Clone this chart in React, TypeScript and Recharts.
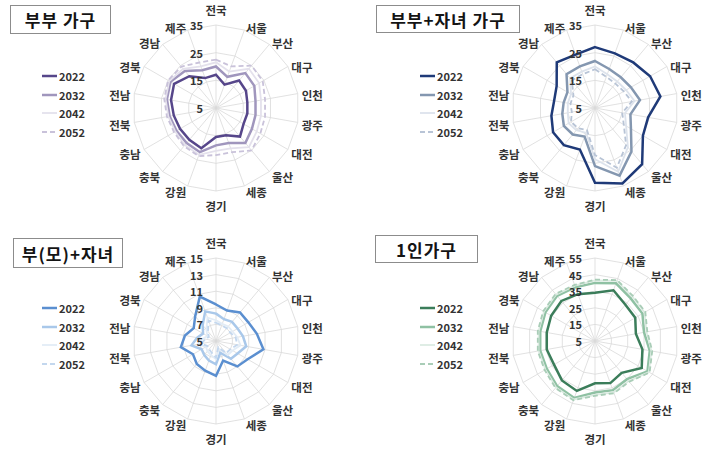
import React from "react";
import {
  RadarChart,
  PolarGrid,
  PolarAngleAxis,
  PolarRadiusAxis,
  Radar,
  Legend,
} from "recharts";

const REGIONS = [
  "전국", "서울", "부산", "대구", "인천", "광주", "대전", "울산", "세종",
  "경기", "강원", "충북", "충남", "전북", "전남", "경북", "경남", "제주",
];
const YEARS = ["2022", "2032", "2042", "2052"];

// 부부 가구 (%)
const COUPLE_2022 = [17, 14, 18, 17.5, 16.5, 16.5, 16.5, 18.5, 15.5, 15.5, 20.5, 20, 20, 20.5, 21.5, 22.5, 20, 16.5];
const COUPLE_2032 = [20, 17, 21.5, 21, 19.5, 19.5, 20, 21.5, 18.5, 18.5, 22, 21.5, 21.5, 22, 23, 24, 22.5, 19.5];
const COUPLE_2042 = [21.5, 19, 23.5, 23, 21.5, 21.5, 22, 23.5, 20.5, 20.5, 23, 22.5, 22, 22.5, 23.5, 24.5, 23.5, 21];
const COUPLE_2052 = [22.5, 21, 25, 24.5, 23, 23, 23.5, 25, 22, 22, 23.5, 23, 22.5, 23, 24, 25, 24.5, 22.5];

// 부부+자녀 가구 (%)
const FAMILY_2022 = [27, 26, 26.5, 28, 29, 24.5, 25, 31.5, 34, 32, 21, 22.5, 22.5, 21, 20, 21, 26.5, 25.5];
const FAMILY_2032 = [22, 20, 19.5, 20, 21.5, 18, 20, 25.5, 31, 26, 16, 17.5, 18, 17, 16.5, 16.5, 21, 21];
const FAMILY_2042 = [20, 18, 17.5, 18, 19.5, 16, 18, 23.5, 29.5, 23.5, 14.5, 15.5, 16, 15, 15, 15, 19, 19];
const FAMILY_2052 = [19, 17, 16.5, 17, 18.5, 15, 17, 22.5, 28, 22, 13.5, 14.5, 15, 13.5, 14, 14, 18, 18];

// 부(모)+자녀 (%)
const SINGLE_PARENT_2022 = [9.4, 8.9, 9.5, 9.5, 10, 10.8, 9.4, 9, 7.5, 9.2, 8.8, 8.6, 8.2, 9.3, 8.8, 8.1, 8.9, 10.7];
const SINGLE_PARENT_2032 = [8.3, 7.8, 8, 8, 8.3, 8.7, 8, 7.8, 6.5, 7.8, 7.5, 7.2, 7, 8, 7.3, 6.8, 7.5, 8.8];
const SINGLE_PARENT_2042 = [7.5, 7.2, 7.3, 7.3, 7.6, 8, 7.3, 7.2, 6, 7.2, 6.8, 6.6, 6.4, 7.2, 6.6, 6.2, 6.8, 8];
const SINGLE_PARENT_2052 = [7.2, 7, 7, 7, 7.4, 7.6, 7, 6.9, 5.8, 7, 6.5, 6.3, 6.2, 6.8, 6.3, 6, 6.5, 7.6];

// 1인가구 (%)
const ONE_PERSON_2022 = [34, 37.5, 33.5, 33, 30, 34, 37.5, 30, 32, 30.5, 37, 36, 33.5, 34.5, 34.5, 35.5, 36.5, 35];
const ONE_PERSON_2032 = [40, 42, 38.5, 38, 35, 38.5, 41.5, 35, 36.5, 36, 41.5, 40.5, 38.5, 38.5, 38.5, 39.5, 40.5, 39.5];
const ONE_PERSON_2042 = [41.5, 43.5, 40, 39.5, 36.5, 39.5, 42.5, 36.5, 38, 37.5, 42.5, 41.5, 39.5, 39.5, 39.5, 40.5, 41.5, 40.5];
const ONE_PERSON_2052 = [42, 44, 40.5, 40, 37, 40, 43, 37, 38.5, 38, 43, 42, 40, 40, 40, 41, 42, 41];

const FONT = "'Noto Sans CJK KR', 'Noto Sans', sans-serif";
const WIDTHS = [2.5, 2.5, 1.8, 1.8];
const DASHES = [undefined, undefined, undefined, "5 3"];

interface PanelProps {
  title: string;
  left: number;
  top: number;
  box: { x: number; y: number; w: number; h: number };
  cx: number;
  cy: number;
  domain: [number, number];
  ticks: number[];
  colors: string[];
  series: number[][];
  legendX: number;
  legendY: number;
}

function buildRows(series: number[][]) {
  return REGIONS.map((region, i) => {
    const row: Record<string, string | number> = { region };
    YEARS.forEach((year, k) => {
      row[year] = series[k][i];
    });
    return row;
  });
}

function AngleTick(props: any) {
  const { x, y, textAnchor, payload } = props;
  const angle = (Number(payload?.coordinate ?? 0) * Math.PI) / 180;
  const dy = textAnchor === "middle" ? -11 * Math.sin(angle) : 2;
  return (
    <text
      x={x}
      y={y + dy}
      textAnchor={textAnchor}
      dominantBaseline="central"
      fontFamily={FONT}
      fontSize={11.5}
      fontWeight={700}
      fill="#333"
    >
      {payload.value}
    </text>
  );
}

function RadiusTick(props: any) {
  const { x, y, payload } = props;
  return (
    <text
      x={x - 13}
      y={y}
      textAnchor="end"
      dominantBaseline="central"
      fontFamily={FONT}
      fontSize={11}
      fontWeight={700}
      fill="#333"
    >
      {payload.value}
    </text>
  );
}

function YearLegend(props: any) {
  const items = props.payload ?? [];
  return (
    <div style={{ fontFamily: FONT }}>
      {items.map((entry: any) => {
        const k = YEARS.indexOf(String(entry.value));
        return (
          <div
            key={String(entry.value)}
            style={{ display: "flex", alignItems: "center", height: 18.5 }}
          >
            <svg width={16} height={6}>
              <line
                x1={0}
                y1={3}
                x2={15}
                y2={3}
                stroke={entry.color}
                strokeWidth={WIDTHS[k]}
                strokeDasharray={DASHES[k]}
              />
            </svg>
            <span
              style={{
                marginLeft: 1,
                fontSize: 11,
                fontWeight: 700,
                color: "#333",
                lineHeight: "12px",
              }}
            >
              {entry.value}
            </span>
          </div>
        );
      })}
    </div>
  );
}

function RadarPanel(p: PanelProps) {
  const rows = buildRows(p.series);
  return (
    <div
      style={{
        position: "absolute",
        left: p.left,
        top: p.top,
        width: 355,
        height: 225,
      }}
    >
      <RadarChart
        width={355}
        height={225}
        data={rows}
        cx={p.cx}
        cy={p.cy}
        outerRadius={83}
        margin={{ top: 0, right: 0, bottom: 0, left: 0 }}
      >
        <PolarGrid stroke="#d9d9d9" strokeWidth={0.8} />
        <PolarAngleAxis
          dataKey="region"
          tick={AngleTick}
          tickSize={4}
          tickLine={false}
          axisLine={false}
        />
        <PolarRadiusAxis
          angle={90}
          domain={p.domain}
          ticks={p.ticks}
          tickCount={p.ticks.length}
          allowDataOverflow
          axisLine={false}
          tickLine={false}
          tick={RadiusTick}
        />
        {YEARS.map((year, k) => (
          <Radar
            key={year}
            name={year}
            dataKey={year}
            stroke={p.colors[k]}
            strokeWidth={WIDTHS[k]}
            strokeDasharray={DASHES[k]}
            fill="none"
            fillOpacity={0}
            dot={false}
            isAnimationActive={false}
          />
        ))}
        <Legend
          layout="horizontal"
          align="center"
          verticalAlign="middle"
          content={YearLegend}
          wrapperStyle={{
            position: "absolute",
            left: p.legendX,
            top: p.legendY,
            width: 60,
            height: 76,
          }}
        />
      </RadarChart>
      <div
        style={{
          position: "absolute",
          left: p.box.x,
          top: p.box.y,
          width: p.box.w,
          height: p.box.h,
          boxSizing: "border-box",
          border: "1px solid #8c8c8c",
          background: "#fff",
          display: "flex",
          alignItems: "center",
          justifyContent: "center",
          fontFamily: FONT,
          fontSize: 17,
          fontWeight: 700,
          letterSpacing: 1,
          color: "#141414",
          whiteSpace: "pre",
        }}
      >
        {p.title}
      </div>
    </div>
  );
}

export default function App() {
  return (
    <div
      style={{
        position: "absolute",
        left: 0,
        top: 0,
        width: 710,
        height: 450,
        background: "#fff",
        overflow: "hidden",
      }}
    >
      <RadarPanel
        title="부부 가구"
        left={0}
        top={0}
        box={{ x: 10, y: 5, w: 101, h: 29 }}
        cx={216}
        cy={108}
        domain={[5, 35]}
        ticks={[5, 15, 25, 35]}
        colors={["#56468a", "#a096bd", "#e4e1ec", "#c9c2da"]}
        series={[COUPLE_2022, COUPLE_2032, COUPLE_2042, COUPLE_2052]}
        legendX={42}
        legendY={67}
      />
      <RadarPanel
        title="부부+자녀 가구"
        left={355}
        top={0}
        box={{ x: 21, y: 5, w: 144, h: 28 }}
        cx={240}
        cy={108}
        domain={[5, 35]}
        ticks={[5, 15, 25, 35]}
        colors={["#1f3a78", "#8497b0", "#dde3ec", "#b8c4d6"]}
        series={[FAMILY_2022, FAMILY_2032, FAMILY_2042, FAMILY_2052]}
        legendX={65}
        legendY={67}
      />
      <RadarPanel
        title="부(모)+자녀"
        left={0}
        top={225}
        box={{ x: 13, y: 13, w: 110, h: 30 }}
        cx={216}
        cy={116}
        domain={[5, 15]}
        ticks={[5, 7, 9, 11, 13, 15]}
        colors={["#5b8fd0", "#a9c8ea", "#e2ecf6", "#c3d7ee"]}
        series={[SINGLE_PARENT_2022, SINGLE_PARENT_2032, SINGLE_PARENT_2042, SINGLE_PARENT_2052]}
        legendX={42}
        legendY={74}
      />
      <RadarPanel
        title="1인가구"
        left={355}
        top={225}
        box={{ x: 20, y: 10, w: 103, h: 28 }}
        cx={240}
        cy={116}
        domain={[5, 55]}
        ticks={[5, 15, 25, 35, 45, 55]}
        colors={["#3b7d5a", "#8fc1a3", "#dcebe2", "#a9cdb7"]}
        series={[ONE_PERSON_2022, ONE_PERSON_2032, ONE_PERSON_2042, ONE_PERSON_2052]}
        legendX={65}
        legendY={74}
      />
    </div>
  );
}
